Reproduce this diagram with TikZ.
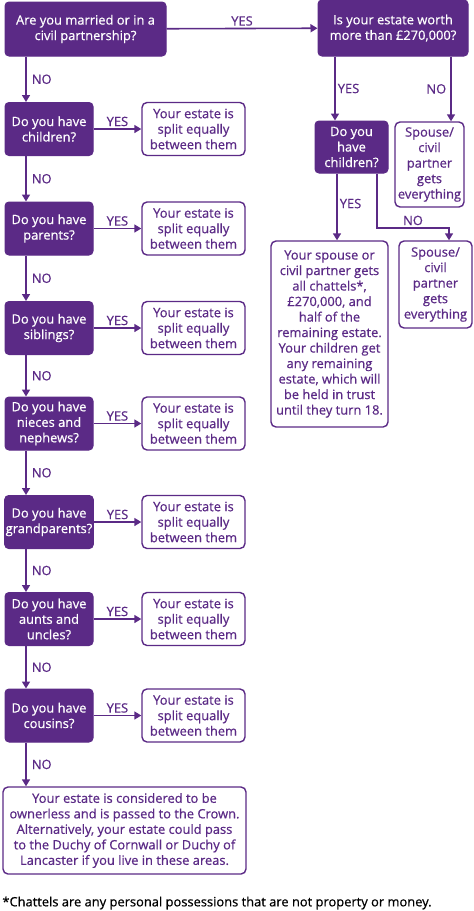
\documentclass[tikz,border=0pt]{standalone}
\usepackage{fontspec}
\setmainfont{Open Sans}[RawFeature={embolden=0.6}]
\usetikzlibrary{arrows.meta,positioning}
\definecolor{willpurple}{HTML}{5B2A86}

\begin{document}
\begin{tikzpicture}[x=1pt, y=-1pt,
  every node/.style={font=\fontsize{12.9}{15.5}\selectfont, align=center, inner sep=1pt},
  qbox/.style={draw=willpurple, fill=willpurple, text=white, rounded corners=4pt, line width=1pt},
  abox/.style={draw=willpurple, fill=white, text=willpurple, rounded corners=5pt, line width=1.4pt},
  arr/.style={draw=willpurple, line width=1.6pt, -{Triangle[width=8pt,length=7pt]}},
  lbl/.style={text=willpurple}]
\useasboundingbox (0,0) rectangle (474,911);

% top row
\node[qbox, minimum width=161pt, minimum height=54pt] (married) at (85.5,29) {Are you married or in a\\civil partnership?};
\node[qbox, minimum width=150pt, minimum height=56pt] (worth) at (393,28) {Is your estate worth\\more than £270,000?};

% right branch
\node[qbox, minimum width=73pt, minimum height=52pt] (kids) at (351.5,147) {Do you\\have\\children?};
\node[abox, minimum width=69pt, minimum height=85pt] (spouseA) at (429.5,164.5) {Spouse/\\civil\\partner\\gets\\everything};
\node[abox, minimum width=117pt, minimum height=186pt] (share) at (329.5,334) {Your spouse or\\civil partner gets\\all chattels*,\\£270,000, and\\half of the\\remaining estate.\\Your children get\\any remaining\\estate, which will\\be held in trust\\until they turn 18.};
\node[abox, minimum width=73pt, minimum height=87pt] (spouseB) at (435.5,284.5) {Spouse/\\civil\\partner\\gets\\everything};

% left column
\foreach \i/\y/\q in {1/129/{Do you have\\children?}, 2/228.5/{Do you have\\parents?},
    3/328/{Do you have\\siblings?}, 4/423.5/{Do you have\\nieces and\\nephews?},
    5/522/{Do you have\\grandparents?}, 6/619/{Do you have\\aunts and\\uncles?},
    7/715.5/{Do you have\\cousins?}} {
  \node[qbox, minimum width=88pt, minimum height=53pt] (q\i) at (49,\y) {\q};
  \node[abox, minimum width=103pt, minimum height=53pt] (a\i) at (193.5,\y) {Your estate is\\split equally\\between them};
  \draw[arr] (q\i.east) -- node[lbl, above=1pt] {YES} (a\i.west);
}
\node[abox, minimum width=243pt, minimum height=87pt] (crown) at (124.5,830.5) {Your estate is considered to be\\ownerless and is passed to the Crown.\\Alternatively, your estate could pass\\to the Duchy of Cornwall or Duchy of\\Lancaster if you live in these areas.};
\node (note) at (217,903) {*Chattels are any personal possessions that are not property or money.};

% connector lanes
\coordinate (lane) at (26,0);
\coordinate (wyes) at (335,0);
\coordinate (wno) at (451,0);
\coordinate (kyes) at (337,0);
\coordinate (kno) at (377,0);
\coordinate (kbend) at (449,228);

\draw[arr] (married) -- node[lbl, above=1pt] {YES} (worth);
\draw[arr] (married.south -| lane) -- node[lbl, right=4pt] {NO} (q1.north -| lane);
\foreach \i/\j in {1/2, 2/3, 3/4, 4/5, 5/6, 6/7}
  \draw[arr] (q\i.south -| lane) -- node[lbl, right=4pt] {NO} (q\j.north -| lane);
\draw[arr] (q7.south -| lane) -- node[lbl, right=4pt] {NO} (crown.north -| lane);

\draw[arr] (worth.south -| wyes) -- node[lbl, right=1pt, pos=.5] {YES} (kids.north -| wyes);
\draw[arr] (worth.south -| wno) -- node[lbl, left=3pt, pos=.5] {NO} (spouseA.north -| wno);
\draw[arr] (kids.south -| kyes) -- node[lbl, right=1pt, pos=.45] {YES} (share.north -| kyes);
\draw[arr] (kids.south -| kno) |- (kbend) node[lbl, above=1pt, pos=.75] {NO} -- (spouseB.north -| kbend);
\end{tikzpicture}
\end{document}
